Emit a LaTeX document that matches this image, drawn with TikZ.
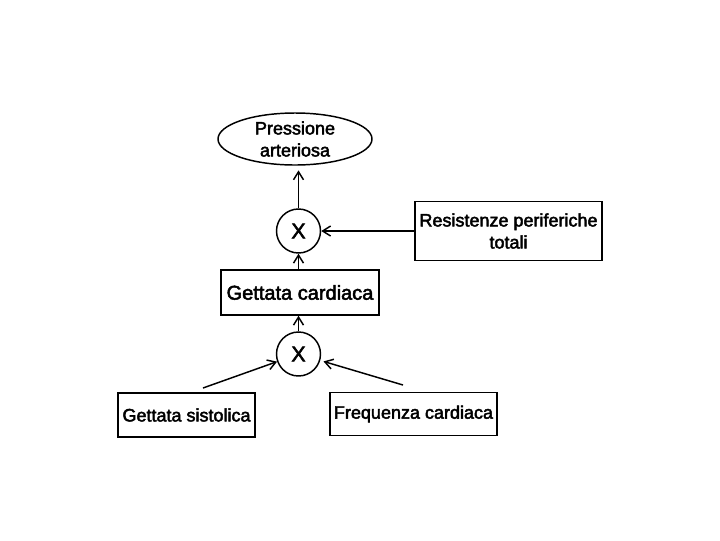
\documentclass[tikz,border=0pt]{standalone}
\usepackage{fontspec}
\setmainfont[FakeBold=2.5]{Liberation Sans}
\usetikzlibrary{arrows.meta,shapes.geometric}
\tikzset{
  every node/.style={font=\fontsize{13.5}{16.5}\selectfont, align=center, inner sep=0pt, line width=1.1pt},
  box/.style={draw, rectangle},
  ell/.style={draw, ellipse, minimum width=115.5pt, minimum height=39pt},
  mult/.style={draw, circle, minimum size=33pt, font=\fontsize{16}{18}\selectfont},
  arr/.style={draw, line width=1.1pt, -{Straight Barb[length=6pt,width=7.5pt]}}
}
\begin{document}
\begin{tikzpicture}[x=0.75pt,y=-0.75pt]
\useasboundingbox (0,0) rectangle (720,540);
\node[ell] (pa) at (295,139) {Pressione\\arteriosa};
\node[mult] (m1) at (298.5,231) {X};
\node[box, minimum width=140.25pt, minimum height=44.25pt] (rpt) at (508.5,231) {Resistenze periferiche\\totali};
\node[box, minimum width=118.5pt, minimum height=33.75pt, font=\fontsize{15}{17}\selectfont] (gc) at (300,292.5) {Gettata cardiaca};
\node[mult] (m2) at (298.5,354) {X};
\node[box, minimum width=102.75pt, minimum height=33pt] (gs) at (186.5,415) {Gettata sistolica};
\node[box, minimum width=125.25pt, minimum height=32pt] (fc) at (413.5,414) {Frequenza cardiaca};
\coordinate (gsa) at (203,388);
\coordinate (fca) at (403,385);
\draw[arr, shorten >=3.5pt] (m1.north) -- (m1.north |- pa.south);
\draw[arr] (rpt.west) -- (m1.east);
\draw[arr] (m1.south |- gc.north) -- (m1.south);
\draw[arr] (m2.north) -- (m2.north |- gc.south);
\draw[arr] (gsa) -- (m2);
\draw[arr, shorten >=2.5pt] (fca) -- (m2);
\end{tikzpicture}
\end{document}
